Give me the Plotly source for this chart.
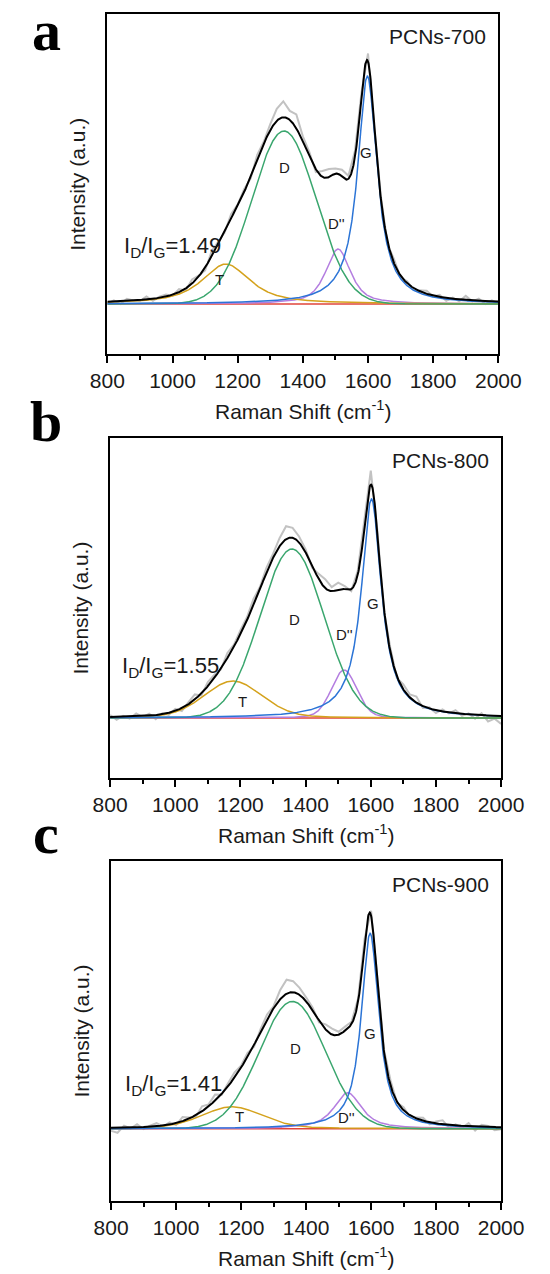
import numpy as np
import plotly.graph_objects as go

# ---------------- data ----------------
wn_min, wn_max = 800, 2000
panel_names = ["PCNs-700", "PCNs-800", "PCNs-900"]
panel_letters = ["a", "b", "c"]
ratio_labels = ["1.49", "1.55", "1.41"]
peak_names = ["T", "D", "D''", "G"]
tick_values = [800, 1000, 1200, 1400, 1600, 1800, 2000]

# fitted component parameters (center cm-1, height a.u., FWHM cm-1, lorentzian fraction), order T, D, D'', G
centers_700 = [1164, 1342, 1508, 1598]
heights_700 = [40, 173, 55, 228]
fwhm_700 = [175, 232, 90, 72]
eta_700 = [0.8, 0.0, 0.7, 1.0]

centers_800 = [1177, 1358, 1518, 1602]
heights_800 = [37, 169, 48, 219]
fwhm_800 = [210, 231, 92, 74]
eta_800 = [0.2, 0.0, 0.2, 1.0]

centers_900 = [1172, 1358, 1528, 1597]
heights_900 = [22, 127, 36, 195]
fwhm_900 = [220, 240, 100, 64]
eta_900 = [0.3, 0.0, 0.8, 0.9]

# raw spectrum deviation from the fit, read every 20 cm-1 from 800 to 2000
raw_wn = list(range(800, 2001, 20))
raw_dev_700 = [-2, 1, -3, 2, 0, -1, 3, -2, 1, 2, -1,
               3, -2, 4, 1, -3, 5, 2, -2, 4, 1,
               3, -2, 5, 2, 6,
               12, 16, 9, 14, 5,
               4, -3, 6, 8, 5,
               7, 3, 6,
               5, 8, -2,
               3, -3, 4, -2,
               2, -2, 1, 3, -1, 2, -3, 1, -2, 4, -1, 2, -3, 1, -2]
raw_dev_800 = [2, -3, 1, -2, 3, -1, 2, -4, 1, -2, 2,
               -3, 2, 5, -2, 4, 3, -1, 5, 2, 4,
               3, 6, 2, 5, 4,
               8, 13, 10, 6, 3,
               -2, 5, 9, 4, 7,
               3, -2, 4,
               6, 14, 3,
               -3, 4, -2, 5,
               3, 6, -2, 1, -3, 2, -1, 3, -2, 1, -4, 2, -6, -3, -8]
raw_dev_900 = [-3, -5, 2, -1, 3, -2, 1, 3, -1, 2, -2,
               4, 1, -2, 5, 2, 6, -1, 3, 5, 2,
               4, -2, 3, 5, 2,
               9, 14, 11, 7, 4,
               3, -2, 5, 6, 3,
               4, 2, 3,
               7, 5, 4,
               2, 5, -1, 3,
               -2, 1, 3, -2, 2, 4, -3, 1, -2, 3, -4, 2, 1, -3, -2]

# y ranges of each panel (baseline at 0)
y_ranges = [[-50, 290], [-60, 280], [-72, 267]]

# label positions (wavenumber, intensity) per panel, order T, D, D'', G
label_pos_700 = [(1145, 25), (1345, 137), (1503, 81), (1594, 152)]
label_pos_800 = [(1206, 16), (1367, 98), (1519, 83), (1607, 114)]
label_pos_900 = [(1194, 12), (1366, 80), (1523, 11), (1596, 95)]
ratio_pos = [(844, 57), (830, 51), (837, 44)]

# ---------------- styling ----------------
comp_colors = ["#d4a21c", "#3aa66e", "#b47ee0", "#2b74d6"]
fit_color = "black"
raw_color = "#c2c2c2"
base_color = "#e0443a"
FONT = "Liberation Sans, Arial, sans-serif"

PAGE_W, PAGE_H = 550, 1274
OFF = 8  # default page margin of the html body
W, H = PAGE_W - OFF, PAGE_H - OFF
# plot boxes in page pixels (left, right, top, bottom)
boxes = [(96, 519, 14, 354), (99, 522, 438, 778), (100, 522, 861, 1201)]


def px(v):
    return (v - OFF) / W


def py(v):
    return 1 - (v - OFF) / H


def pvoigt(x, c, h, f, eta):
    g = np.exp(-4 * np.log(2) * ((x - c) / f) ** 2)
    l = 1.0 / (1 + 4 * ((x - c) / f) ** 2)
    return h * (eta * l + (1 - eta) * g)


params = [
    (centers_700, heights_700, fwhm_700, eta_700, raw_dev_700, label_pos_700),
    (centers_800, heights_800, fwhm_800, eta_800, raw_dev_800, label_pos_800),
    (centers_900, heights_900, fwhm_900, eta_900, raw_dev_900, label_pos_900),
]

fig = go.Figure()
annotations = []
x = np.linspace(wn_min, wn_max, 1201)
rx = np.array(raw_wn, dtype=float)

for i, (cs, hs, fs, es, dev, lpos) in enumerate(params):
    xa = "x" if i == 0 else f"x{i+1}"
    ya = "y" if i == 0 else f"y{i+1}"
    comps = [pvoigt(x, c, h, f, e) for c, h, f, e in zip(cs, hs, fs, es)]
    total = np.sum(comps, axis=0)
    raw_total = np.sum([pvoigt(rx, c, h, f, e) for c, h, f, e in zip(cs, hs, fs, es)], axis=0) + np.array(dev)
    fig.add_trace(go.Scatter(x=rx, y=raw_total, mode="lines", line=dict(color=raw_color, width=2),
                             xaxis=xa, yaxis=ya, showlegend=False, hoverinfo="skip"))
    fig.add_trace(go.Scatter(x=[wn_min, wn_max], y=[0, 0], mode="lines", line=dict(color=base_color, width=1.5),
                             xaxis=xa, yaxis=ya, showlegend=False, hoverinfo="skip"))
    for k in [2, 0, 1, 3]:
        fig.add_trace(go.Scatter(x=x, y=comps[k], mode="lines", line=dict(color=comp_colors[k], width=1.5),
                                 xaxis=xa, yaxis=ya, showlegend=False, hoverinfo="skip"))
    fig.add_trace(go.Scatter(x=x, y=total, mode="lines", line=dict(color=fit_color, width=2),
                             xaxis=xa, yaxis=ya, showlegend=False, hoverinfo="skip"))

    l, r, t, b = boxes[i]
    axis_common = dict(showline=True, linecolor="black", linewidth=2, mirror=True, showgrid=False,
                       zeroline=False)
    fig.layout[f"xaxis{'' if i == 0 else i+1}"] = dict(
        domain=[px(l), px(r)], range=[wn_min, wn_max], anchor=ya,
        tickmode="array", tickvals=tick_values,
        ticks="outside", ticklen=7, tickwidth=1.5, tickcolor="black",
        minor=dict(ticks="outside", ticklen=4, tickwidth=1.5, tickcolor="black", dtick=100, tick0=800),
        tickfont=dict(family=FONT, size=21, color="#1a1a1a"),
        **axis_common)
    fig.layout[f"yaxis{'' if i == 0 else i+1}"] = dict(
        domain=[py(b), py(t)], range=y_ranges[i], anchor=xa, showticklabels=False, ticks="",
        **axis_common)

    for k, (lx, ly) in enumerate(lpos):
        annotations.append(dict(x=lx, y=ly, xref=xa, yref=ya, text=peak_names[k], showarrow=False,
                                font=dict(family=FONT, size=15, color="#1a1a1a")))
    rxp, ryp = ratio_pos[i]
    annotations.append(dict(x=rxp, y=ryp, xref=xa, yref=ya, xanchor="left",
                            text=f"I<sub>D</sub>/I<sub>G</sub>={ratio_labels[i]}", showarrow=False,
                            font=dict(family=FONT, size=22, color="#1a1a1a")))
    annotations.append(dict(x=px(r - 11), y=py(t + 23), xref="paper", yref="paper",
                            xanchor="right", yanchor="middle", text=panel_names[i], showarrow=False,
                            font=dict(family=FONT, size=21, color="#1a1a1a")))
    annotations.append(dict(x=px((l + r) / 2), y=py(b + 56), xref="paper", yref="paper",
                            xanchor="center", yanchor="middle", text="Raman Shift (cm<sup>-1</sup>)",
                            showarrow=False, font=dict(family=FONT, size=21, color="#1a1a1a")))
    annotations.append(dict(x=px(l - 33), y=py((t + b) / 2), xref="paper", yref="paper",
                            xanchor="center", yanchor="middle", text="Intensity (a.u.)", textangle=-90,
                            showarrow=False, font=dict(family=FONT, size=21, color="#1a1a1a")))

# panel letters
letter_y = [30, 422, 833]
for i, ch in enumerate(panel_letters):
    annotations.append(dict(x=px(30), y=py(letter_y[i]), xref="paper", yref="paper",
                            xanchor="center", yanchor="middle", text=f"<b>{ch}</b>", showarrow=False,
                            font=dict(family="Liberation Serif, Times New Roman, serif", size=58, color="black")))

fig.update_layout(width=W, height=H, margin=dict(l=0, r=0, t=0, b=0),
                  paper_bgcolor="white", plot_bgcolor="white", annotations=annotations,
                  showlegend=False)
fig.write_html("out.html")
